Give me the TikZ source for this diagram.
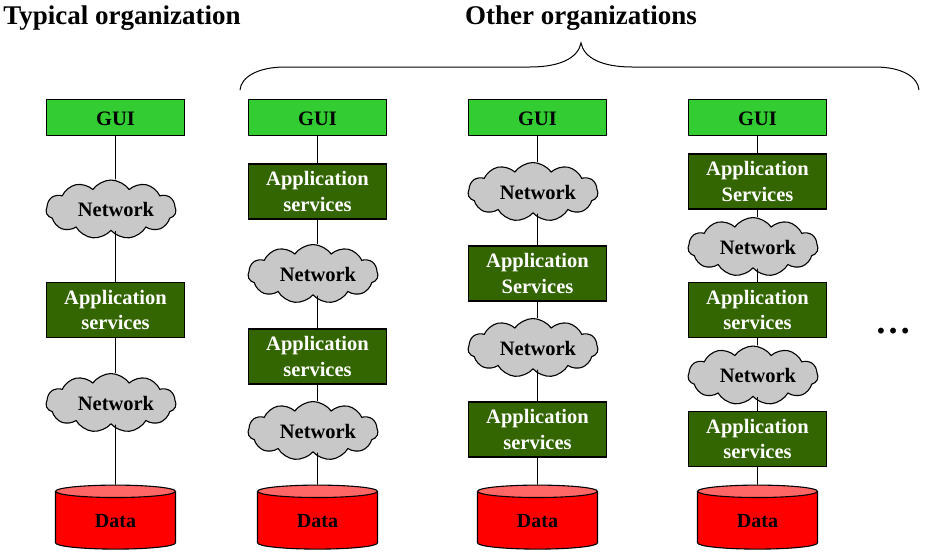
\documentclass[tikz,border=0pt]{standalone}
\usepackage{fontspec}
\setmainfont{Liberation Serif}
\usetikzlibrary{shapes.symbols,shapes.geometric}
\definecolor{guigreen}{RGB}{51,204,51}
\definecolor{appgreen}{RGB}{51,102,0}
\definecolor{netgray}{RGB}{200,200,200}
\definecolor{datared}{RGB}{255,0,0}
\definecolor{datatop}{RGB}{255,102,102}
\newcommand{\nettext}{\hspace*{10pt}Network}
\tikzset{
	gui/.style={draw, line width=1.4pt, fill=guigreen, minimum width=138pt, minimum height=36pt, text height=16pt, text depth=0pt, font=\fontsize{20.5}{22}\selectfont\bfseries},
	app/.style={draw, line width=1.4pt, fill=appgreen, text=white, align=center, minimum width=138pt, minimum height=55pt, execute at begin node={\rule{0pt}{17pt}}, font=\fontsize{20.5}{25.5}\selectfont\bfseries},
	net/.style={cloud, cloud puffs=11, cloud puff arc=110, aspect=2.4, draw, line width=1.1pt, fill=netgray, minimum width=130pt, minimum height=55pt, inner xsep=-5pt, inner ysep=0pt, font=\fontsize{20.5}{22}\selectfont\bfseries},
	data/.style={cylinder, shape border rotate=90, aspect=0.26, draw, line width=1.1pt, cylinder uses custom fill, cylinder body fill=datared, cylinder end fill=datatop, minimum width=120pt, minimum height=64pt, font=\fontsize{20}{22}\selectfont\bfseries},
	title/.style={font=\fontsize{27}{30}\selectfont\bfseries},
	link/.style={line width=0.8pt}
}
\begin{document}
\begin{tikzpicture}[x=1pt,y=-1pt]
	\useasboundingbox (0,0) rectangle (929,557);

	%%%%% TITLES %%%%%
	\node[title] (typical) at (122,18) {Typical organization};
	\node[title] (other) at (581,18) {Other organizations};
	\draw[line width=1pt] (240,90) .. controls (241,77) and (258,67) .. (285,67) -- (530,67) .. controls (560,67) and (578,58) .. (581,43) .. controls (584,58) and (602,67) .. (632,67) -- (875,67) .. controls (902,67) and (918,77) .. (919,90);

	%%%%% COLUMN 1 %%%%%
	\node[gui] (guiA) at (115.5,117.5) {GUI};
	\node[net] (netAa) at (111,209.5) {\nettext};
	\node[app] (appAa) at (115.5,310) {Application\\services};
	\node[net] (netAb) at (111,403) {\nettext};
	\node[data] (dataA) at (115.5,521.5) {Data};
	\draw[link] (guiA) -- (netAa.north -| guiA) (netAa.south -| guiA) -- (appAa) -- (netAb.north -| appAa) (netAb.south -| appAa) -- (dataA);

	%%%%% COLUMN 2 %%%%%
	\node[gui] (guiB) at (317.5,117.5) {GUI};
	\node[app] (appBa) at (317.5,191.5) {Application\\services};
	\node[net] (netBa) at (313,274) {\nettext};
	\node[app] (appBb) at (317.5,356.5) {Application\\services};
	\node[net] (netBb) at (313,431) {\nettext};
	\node[data] (dataB) at (317.5,521.5) {Data};
	\draw[link] (guiB) -- (appBa) -- (netBa.north -| appBa) (netBa.south -| appBa) -- (appBb) -- (netBb.north -| appBb) (netBb.south -| appBb) -- (dataB);

	%%%%% COLUMN 3 %%%%%
	\node[gui] (guiC) at (537.5,117.5) {GUI};
	\node[net] (netCa) at (533,192) {\nettext};
	\node[app] (appCa) at (537.5,273.5) {Application\\Services};
	\node[net] (netCb) at (533,348) {\nettext};
	\node[app] (appCb) at (537.5,429.5) {Application\\services};
	\node[data] (dataC) at (537.5,521.5) {Data};
	\draw[link] (guiC) -- (netCa.north -| guiC) (netCa.south -| guiC) -- (appCa) -- (netCb.north -| appCa) (netCb.south -| appCa) -- (appCb) -- (dataC);

	%%%%% COLUMN 4 %%%%%
	\node[gui] (guiD) at (757.5,117.5) {GUI};
	\node[app] (appDa) at (757.5,181.5) {Application\\Services};
	\node[net] (netDa) at (753,247) {\nettext};
	\node[app] (appDb) at (757.5,310) {Application\\services};
	\node[net] (netDb) at (753,375.5) {\nettext};
	\node[app] (appDc) at (757.5,439) {Application\\services};
	\node[data] (dataD) at (757.5,521.5) {Data};
	\draw[link] (guiD) -- (appDa) -- (netDa.north -| appDa) (netDa.south -| appDa) -- (appDb) -- (netDb.north -| appDb) (netDb.south -| appDb) -- (appDc) -- (dataD);

	\node[font=\fontsize{36}{36}\selectfont\bfseries] (more) at (893,331) {…};
\end{tikzpicture}
\end{document}
